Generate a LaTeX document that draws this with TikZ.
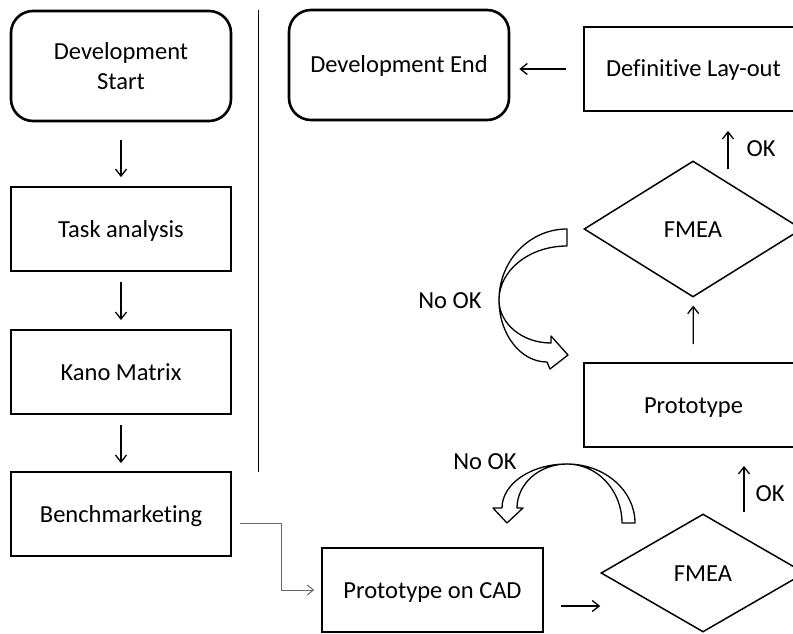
\documentclass[tikz,border=0pt]{standalone}
\usepackage{fontspec}
\setmainfont{Carlito}[Ligatures=NoCommon]
\usetikzlibrary{shapes.geometric,arrows.meta,calc}
\begin{document}
\begin{tikzpicture}[x=1pt,y=-1pt,
  txt/.style={font=\fontsize{24.5}{30}\selectfont, align=center, text=black},
  one/.style={text height=20pt, text depth=4pt},
  box/.style={txt, one, draw, line width=1.8pt, rectangle, minimum width=#1, minimum height=84pt, inner sep=0pt},
  rbox/.style={txt, draw, line width=2.6pt, rectangle, rounded corners=22pt, minimum width=220pt, minimum height=110pt, inner sep=0pt},
  diam/.style={txt, one, draw, line width=1.5pt, diamond, inner sep=0pt},
  arr/.style={-{Straight Barb[length=7pt,width=11pt]}, line width=1.3pt},
  elbow/.style={-{Straight Barb[length=6pt,width=10pt]}, line width=1pt, draw=black!60},
  band/.style={draw, fill=white, line width=1.3pt, line join=round},
  lbl/.style={txt}
]
\clip (0,0) rectangle (793,634);
\fill[white] (0,0) rectangle (793,634);

% left column
\node[rbox] (dstart) at (121,66) {Development\\Start};
\node[box=220pt] (task) at (121,229) {Task analysis};
\node[box=220pt] (kano) at (121,372) {Kano Matrix};
\node[box=220pt] (bench) at (121,514) {Benchmarketing};

% separator
\draw[line width=1pt] (258,10) -- (258,472);

% right part
\node[rbox, one] (dend) at (399,65) {Development End};
\node[box=219pt] (defl) at (693.5,69) {Definitive Lay-out};
\node[diam, minimum width=218pt, minimum height=136pt] (fmeaA) at (693,229) {FMEA};
\node[box=219pt] (proto) at (693.5,405) {Prototype};
\node[box=221pt] (cad) at (432.5,590) {Prototype on CAD};
\node[diam, minimum width=204pt, minimum height=118pt] (fmeaB) at (703,573) {FMEA};

% left arrows
\draw[arr, shorten <=18pt, shorten >=9pt] (dstart) -- (task);
\draw[arr, shorten <=10pt, shorten >=9pt] (task) -- (kano);
\draw[arr, shorten <=10pt, shorten >=8pt] (kano) -- (bench);

% elbow connector
\draw[elbow, shorten <=8pt, shorten >=7pt] ([yshift=-9pt]bench.east) -- ++(50,0) |- (cad.west);

% bottom arrow to FMEA
\draw[arr, shorten <=17pt] ([yshift=-16pt]cad.east) -- ([yshift=-16pt]cad.east -| fmeaB.west);

% FMEA B -> Prototype
\draw[arr, shorten >=18pt] ([shift={(41,-1)}]fmeaB.north) -- ([xshift=50.5pt]proto.south);
\node[lbl] (okB) at (770,494) {OK};

% Prototype -> FMEA A
\draw[arr, shorten <=18pt, shorten >=8pt] (proto) -- (fmeaA);

% FMEA A -> Definitive
\draw[arr, shorten >=19pt] ([shift={(35,9)}]fmeaA.north) -- ([xshift=34.5pt]defl.south);
\node[lbl] (okA) at (761,149) {OK};

% Definitive -> Development End
\draw[arr, shorten <=17pt, shorten >=9pt] (defl.west) -- (defl.west -| dend.east);

% curved arrow (top, No OK)
\draw[band] (567,229) .. controls (529.5,229) and (499,260.8) .. (499,300)
   .. controls (499,270.2) and (529.5,246) .. (567,246) -- cycle;
\draw[band] (499,300) .. controls (499,334.2) and (520.5,362) .. (547,362)
   -- (550,369) -- (568,355) -- (551,336) -- (551,343)
   .. controls (522.3,343) and (499,323.7) .. (499,300) -- cycle;
\node[lbl] (nokA) at (450,301) {No OK};

% curved arrow (bottom, No OK)
\draw[band] (635,523) .. controls (635,490.4) and (604.5,464) .. (567,464)
   .. controls (597.4,464) and (622,490.4) .. (622,523) -- cycle;
\draw[band] (567,464) .. controls (531.1,464) and (502,483.7) .. (502,508)
   -- (493,508) -- (507,523) -- (523,508) -- (517,508)
   .. controls (517,483.7) and (539.4,464) .. (567,464) -- cycle;
\node[lbl] (nokB) at (485,462) {No OK};
\end{tikzpicture}
\end{document}
